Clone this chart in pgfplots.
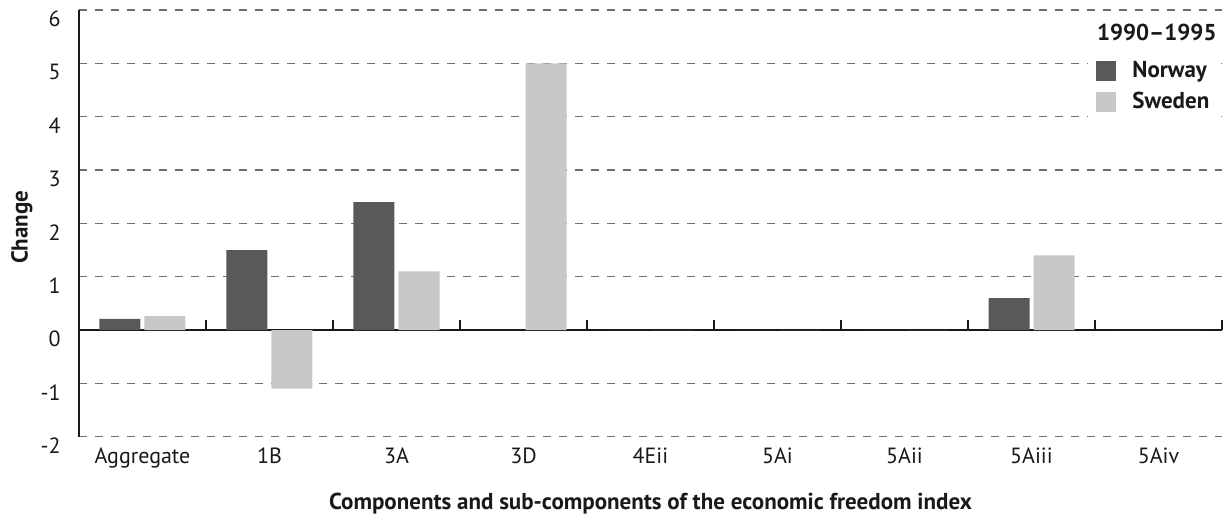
\documentclass[border=0pt]{standalone}
\usepackage{fontspec}
\setmainfont{PT Sans}
\usepackage{pgfplots}
\pgfplotsset{compat=1.18}
\definecolor{norway}{HTML}{58595B}
\definecolor{sweden}{HTML}{C7C8CA}
\definecolor{gridc}{HTML}{6D6E71}
\begin{document}
\begin{tikzpicture}
\path[use as bounding box] (-39.5pt,-40.65pt) rectangle (573pt,218.35pt);
\begin{axis}[
  scale only axis,
  width=571.5pt, height=213.35pt,
  at={(0,0)}, anchor=south west,
  xmin=-0.5, xmax=8.5,
  ymin=-2, ymax=6,
  axis x line=middle,
  axis y line=left,
  x axis line style={-, line width=1pt, color=black!90},
  y axis line style={-, line width=1.2pt, color=black!90},
  tick align=outside,
  xtick={0,...,8},
  xticklabels={Aggregate,1B,3A,3D,4Eii,5Ai,5Aii,5Aiii,5Aiv},
  major tick length=0pt,
  xtick style={draw=black!90, line width=1pt},
  extra x ticks={0.5,1.5,2.5,3.5,4.5,5.5,6.5,7.5,8.5},
  extra x tick labels={},
  extra x tick style={major tick length=5pt, tick style={yshift=5pt}},
  ytick={-2,...,6},
  ytick style={draw=none},
  ymajorgrids=true,
  major grid style={gridc, line width=0.6pt, dash pattern=on 4pt off 4pt},
  /pgf/number format/assume math mode=true,
  tick label style={font=\fontsize{11}{13}\selectfont, text=black!90},
  xticklabel style={anchor=north, inner sep=0pt, yshift=-58.5pt},
  yticklabel style={anchor=east, inner sep=0pt, xshift=-9pt, yshift=-4.5pt},
  xlabel={Components and sub-components of the economic freedom index},
  ylabel={Change},
  label style={font=\bfseries\fontsize{11.5}{13}\selectfont, text=black!90},
  xlabel style={at={(rel axis cs:0.5,-0.157)}, anchor=center},
  ylabel style={at={(rel axis cs:-0.0499,0.491)}, anchor=center, rotate=0},
  ybar=2pt,
  bar width=20.5pt,
  legend style={at={(rel axis cs:0.8828,0.909)}, anchor=north west, draw=none, fill=white,
    font=\bfseries\fontsize{11.5}{13}\selectfont, text=black!90,
    row sep=2pt, column sep=6pt, inner xsep=4pt, inner ysep=4pt},
  legend cell align=left,
  legend image code/.code={\fill[#1, draw=none] (0pt,-5pt) rectangle (10pt,5pt);},
]
\addplot[fill=norway, draw=none] coordinates {(0,0.21) (1,1.5) (2,2.4) (3,0) (4,0) (5,0) (6,0) (7,0.6) (8,0)};
\addplot[fill=sweden, draw=none] coordinates {(0,0.26) (1,-1.1) (2,1.1) (3,5.0) (4,0) (5,0) (6,0) (7,1.4) (8,0)};
\legend{Norway, Sweden}
\node[anchor=north east, inner sep=0pt, font=\bfseries\fontsize{11.5}{13}\selectfont, text=black!90] at (rel axis cs:0.9956,0.969) {1990–1995};
\end{axis}
\end{tikzpicture}
\end{document}
